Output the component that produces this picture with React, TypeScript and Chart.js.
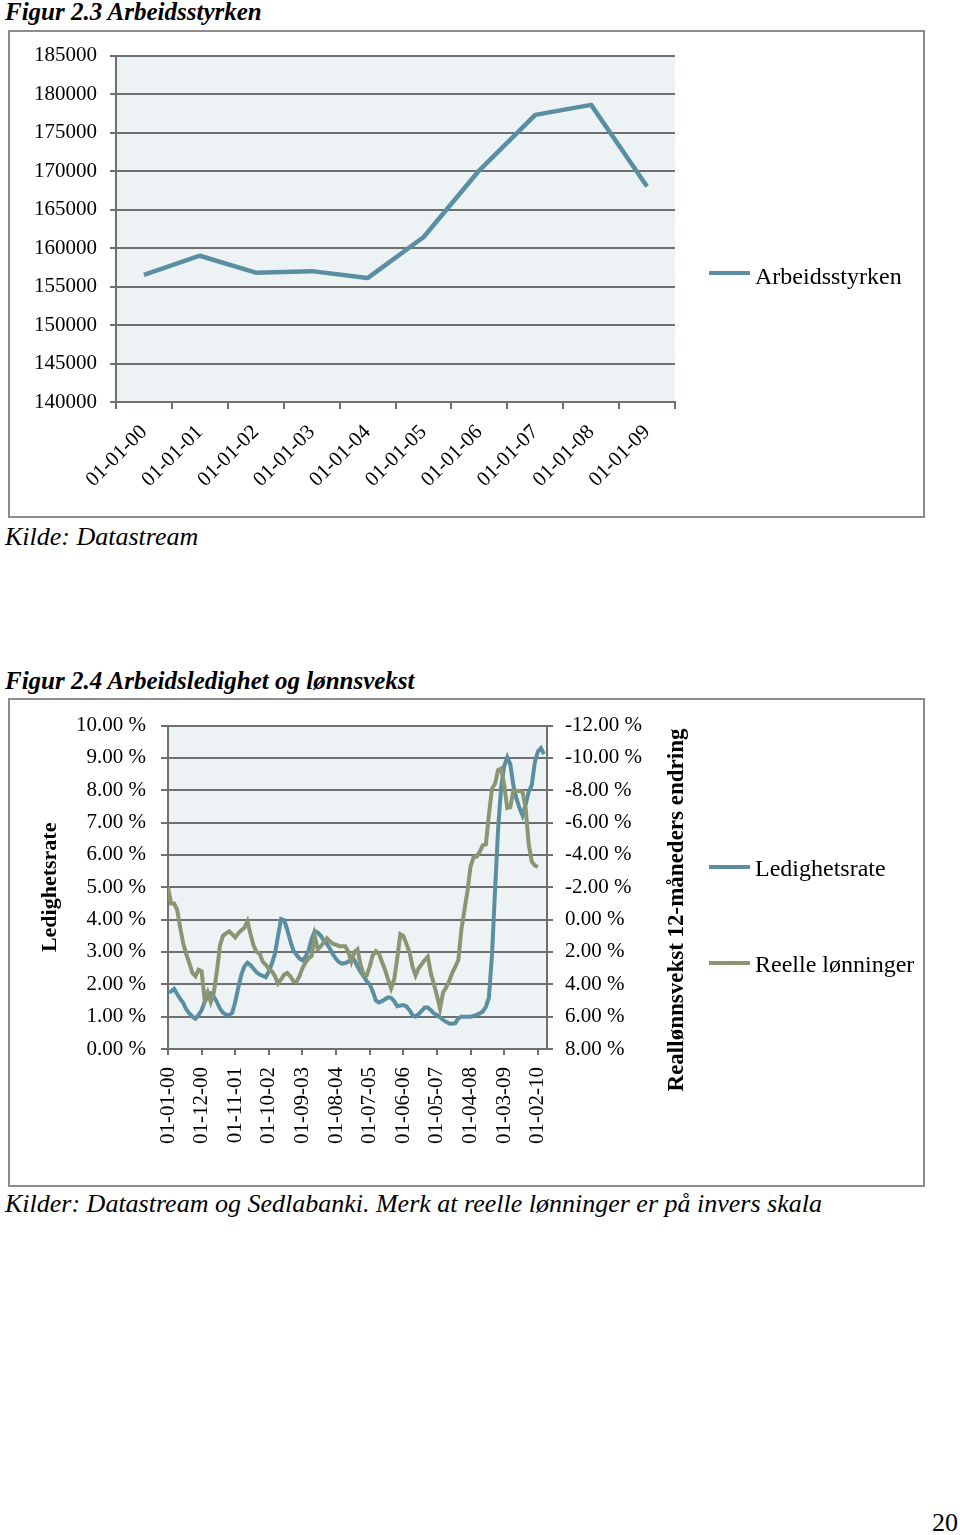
import React, { useEffect, useRef } from 'react';
import { Chart, registerables } from 'chart.js';

Chart.register(...registerables);

// ---------- Figur 2.3 data ----------
const yearLabels = ['01-01-00', '01-01-01', '01-01-02', '01-01-03', '01-01-04', '01-01-05', '01-01-06', '01-01-07', '01-01-08', '01-01-09'];
const labourForce = [156500, 159000, 156800, 157000, 156100, 161400, 170100, 177300, 178600, 168000];

// ---------- Figur 2.4 data (monthly from Jan 2000) ----------
const monthTickLabels = ['01-01-00', '01-12-00', '01-11-01', '01-10-02', '01-09-03', '01-08-04', '01-07-05', '01-06-06', '01-05-07', '01-04-08', '01-03-09', '01-02-10'];
const unemploymentRate = [
  1.76, 1.78, 1.86, 1.70, 1.55, 1.42, 1.22, 1.10, 1.00, 0.94,
  1.05, 1.20, 1.45, 1.66, 1.72, 1.62, 1.45, 1.25, 1.12, 1.06,
  1.05, 1.12, 1.45, 1.90, 2.30, 2.55, 2.67, 2.60, 2.48, 2.37,
  2.30, 2.26, 2.22, 2.40, 2.65, 2.95, 3.50, 4.02, 3.98, 3.70,
  3.35, 3.05, 2.92, 2.80, 2.74, 2.85, 3.05, 3.40, 3.65, 3.60,
  3.50, 3.35, 3.25, 3.10, 2.92, 2.78, 2.68, 2.64, 2.66, 2.70,
  2.80, 2.75, 2.55, 2.38, 2.25, 2.10, 2.00, 1.78, 1.50, 1.44,
  1.48, 1.54, 1.60, 1.58, 1.48, 1.32, 1.34, 1.36, 1.32, 1.20,
  1.05, 1.00, 1.08, 1.18, 1.28, 1.28, 1.20, 1.10, 1.05, 0.98,
  0.90, 0.84, 0.79, 0.78, 0.80, 0.95, 1.00, 1.00, 1.00, 1.00,
  1.02, 1.06, 1.10, 1.16, 1.30, 1.60, 2.90, 4.90, 6.80, 8.10,
  8.75, 9.02, 8.80, 8.15, 7.75, 7.45, 7.22, 7.55, 7.95, 8.15,
  8.85, 9.20, 9.30, 9.12,
];
const realWages = [
  -2.0, -1.0, -1.0, -0.6, 0.5, 1.5, 2.15, 2.7, 3.3, 3.5,
  3.1, 3.2, 5.0, 4.5, 5.1, 4.5, 3.2, 1.6, 1.0, 0.85,
  0.72, 0.9, 1.1, 0.85, 0.65, 0.5, 0.1, 0.9, 1.6, 2.0,
  2.1, 2.6, 2.8, 3.05, 3.2, 3.5, 3.95, 3.7, 3.4, 3.3,
  3.5, 3.8, 3.85, 3.5, 3.0, 2.65, 2.4, 2.24, 1.0, 1.84,
  1.64, 1.4, 1.15, 1.35, 1.5, 1.55, 1.64, 1.64, 1.64, 2.0,
  2.6, 2.0, 1.84, 2.8, 3.4, 3.45, 2.9, 2.2, 1.95, 2.1,
  2.6, 3.1, 3.7, 4.25, 3.7, 2.4, 0.9, 1.0, 1.5, 2.0,
  2.9, 3.45, 3.0, 2.76, 2.5, 2.3, 3.3, 4.0, 4.7, 5.5,
  4.5, 4.2, 3.8, 3.3, 2.9, 2.5, 0.6, -0.6, -1.8, -3.3,
  -3.87, -3.9, -4.2, -4.6, -4.65, -6.5, -8.1, -8.4, -9.25, -9.35,
  -8.3, -6.9, -6.95, -8.0, -7.95, -7.95, -7.9, -6.9, -4.7, -3.6,
  -3.35, -3.25,
];

const FONT = '"Liberation Serif", "Times New Roman", serif';
const BLUE = '#5A8EA1';
const GREEN = '#899573';
const GRID = '#6f6f6f';
const PLOT_BG = '#EDF2F5';
const FRAME = '#8c8c8c';

Chart.defaults.color = '#000';

const plotBg = {
  id: 'plotBg',
  beforeDraw(chart: any) {
    const { ctx, chartArea: a } = chart;
    ctx.save();
    ctx.fillStyle = PLOT_BG;
    ctx.fillRect(a.left, a.top, a.right - a.left, a.bottom - a.top);
    ctx.restore();
  },
};

const sideTitle = {
  id: 'sideTitle',
  afterDraw(chart: any, _args: any, opts: any) {
    if (!opts || !opts.text) return;
    const ctx = chart.ctx;
    ctx.save();
    ctx.translate(opts.x, opts.y);
    ctx.rotate(-Math.PI / 2);
    ctx.font = `bold ${opts.size}px ${FONT}`;
    ctx.fillStyle = '#000';
    ctx.textAlign = 'center';
    ctx.textBaseline = 'middle';
    ctx.fillText(opts.text, 0, 0);
    ctx.restore();
  },
};

function LabourForceChart() {
  const ref = useRef<HTMLCanvasElement>(null);
  useEffect(() => {
    const chart = new Chart(ref.current as HTMLCanvasElement, {
      type: 'line',
      data: {
        labels: yearLabels,
        datasets: [
          {
            label: 'Arbeidsstyrken',
            data: labourForce,
            borderColor: BLUE,
            backgroundColor: BLUE,
            borderWidth: 4.5,
            pointRadius: 0,
            tension: 0,
            borderJoinStyle: 'round',
          },
        ],
      },
      options: {
        animation: false,
        responsive: false,
        devicePixelRatio: 1,
        layout: { padding: { left: 0, top: 24, right: 250, bottom: 16 } },
        plugins: { legend: { display: false }, tooltip: { enabled: false } },
        scales: {
          x: {
            type: 'category',
            offset: true,
            grid: { display: true, drawOnChartArea: false, drawTicks: true, tickLength: 7, color: GRID, lineWidth: 2, offset: true },
            border: { display: true, color: GRID, width: 2 },
            ticks: { autoSkip: false, maxRotation: 45, minRotation: 45, padding: 11, color: '#000', font: { family: FONT, size: 21 } },
            afterFit: (s: any) => { s.height = 100; },
          },
          y: {
            min: 140000,
            max: 185000,
            ticks: { stepSize: 5000, padding: 13, color: '#000', font: { family: FONT, size: 21 }, callback: (v: any) => String(v) },
            grid: { color: GRID, lineWidth: 2, tickLength: 6 },
            border: { color: GRID, width: 2 },
            afterFit: (s: any) => { s.width = 108; },
          },
        },
      } as any,
      plugins: [plotBg],
    });
    return () => chart.destroy();
  }, []);
  return <canvas ref={ref} width={917} height={488} style={{ position: 'absolute', left: 8, top: 30 }} />;
}

function UnemploymentChart() {
  const ref = useRef<HTMLCanvasElement>(null);
  useEffect(() => {
    const chart = new Chart(ref.current as HTMLCanvasElement, {
      type: 'line',
      data: {
        datasets: [
          {
            label: 'Ledighetsrate',
            data: unemploymentRate.map((v, i) => ({ x: i, y: v })),
            yAxisID: 'y',
            borderColor: BLUE,
            backgroundColor: BLUE,
            borderWidth: 4,
            pointRadius: 0,
            tension: 0,
            order: 1,
          },
          {
            label: 'Reelle lønninger',
            data: realWages.map((v, i) => ({ x: i, y: v })),
            yAxisID: 'y1',
            borderColor: GREEN,
            backgroundColor: GREEN,
            borderWidth: 4,
            pointRadius: 0,
            tension: 0,
            order: 0,
          },
        ],
      },
      options: {
        animation: false,
        responsive: false,
        devicePixelRatio: 1,
        layout: { padding: { left: 0, top: 24, right: 278, bottom: 38 } },
        plugins: {
          legend: { display: false },
          tooltip: { enabled: false },
          sideTitle: { text: 'Reallønnsvekst 12-måneders endring', x: 669, y: 212, size: 23 },
        },
        scales: {
          x: {
            type: 'linear',
            min: 0,
            max: 124,
            grid: { display: true, drawOnChartArea: false, drawTicks: true, tickLength: 6, color: GRID, lineWidth: 2 },
            border: { display: true, color: GRID, width: 2 },
            ticks: {
              stepSize: 11,
              includeBounds: false,
              autoSkip: false,
              maxRotation: 90,
              minRotation: 90,
              padding: 12,
              color: '#000',
              font: { family: FONT, size: 21 },
              callback: (v: any) => monthTickLabels[Math.round(Number(v) / 11)] ?? '',
            },
            afterFit: (s: any) => { s.height = 100; },
          },
          y: {
            position: 'left',
            min: 0,
            max: 10,
            ticks: { stepSize: 1, padding: 15, color: '#000', font: { family: FONT, size: 21 }, callback: (v: any) => Number(v).toFixed(2) + ' %' },
            grid: { color: GRID, lineWidth: 2, tickLength: 7 },
            border: { color: GRID, width: 2 },
            title: { display: true, text: 'Ledighetsrate', color: '#000', font: { family: FONT, size: 22, weight: 'bold' }, padding: { top: 29, bottom: 0 } },
            afterFit: (s: any) => { s.width = 160; },
          },
          y1: {
            position: 'right',
            min: -12,
            max: 8,
            reverse: true,
            ticks: { stepSize: 2, padding: 12, color: '#000', font: { family: FONT, size: 21 }, callback: (v: any) => Number(v).toFixed(2) + ' %' },
            grid: { drawOnChartArea: false, color: GRID, lineWidth: 2, tickLength: 6 },
            border: { color: GRID, width: 2 },
            afterFit: (s: any) => { s.width = 100; },
          },
        },
      } as any,
      plugins: [plotBg, sideTitle],
    });
    return () => chart.destroy();
  }, []);
  return <canvas ref={ref} width={917} height={489} style={{ position: 'absolute', left: 8, top: 698 }} />;
}

const txt = (left: number, top: number, size: number, extra: React.CSSProperties = {}): React.CSSProperties => ({
  position: 'absolute',
  left,
  top,
  fontSize: size,
  lineHeight: `${size}px`,
  whiteSpace: 'nowrap',
  fontFamily: FONT,
  color: '#000',
  ...extra,
});

export default function App() {
  return (
    <div style={{ position: 'absolute', left: 0, top: 0, width: 960, height: 1535, background: '#fff', overflow: 'hidden' }}>
      {/* Figure 2.3 */}
      <div style={txt(5, -1, 25, { fontWeight: 'bold', fontStyle: 'italic' })}>Figur 2.3 Arbeidsstyrken</div>
      <div style={{ position: 'absolute', left: 8, top: 30, width: 917, height: 488, border: `2px solid ${FRAME}`, boxSizing: 'border-box' }} />
      <LabourForceChart />
      <div style={{ position: 'absolute', left: 709, top: 271, width: 41, height: 4, background: BLUE }} />
      <div style={txt(755, 264, 24)}>Arbeidsstyrken</div>
      <div style={txt(5, 524, 26, { fontStyle: 'italic' })}>Kilde: Datastream</div>

      {/* Figure 2.4 */}
      <div style={txt(5, 668, 25, { fontWeight: 'bold', fontStyle: 'italic' })}>Figur 2.4 Arbeidsledighet og lønnsvekst</div>
      <div style={{ position: 'absolute', left: 8, top: 698, width: 917, height: 489, border: `2px solid ${FRAME}`, boxSizing: 'border-box' }} />
      <UnemploymentChart />
      <div style={{ position: 'absolute', left: 709, top: 865, width: 41, height: 4, background: BLUE }} />
      <div style={txt(755, 856, 24)}>Ledighetsrate</div>
      <div style={{ position: 'absolute', left: 709, top: 961, width: 41, height: 4, background: GREEN }} />
      <div style={txt(755, 952, 24)}>Reelle lønninger</div>
      <div style={txt(5, 1191, 26, { fontStyle: 'italic' })}>Kilder: Datastream og Sedlabanki. Merk at reelle lønninger er på invers skala</div>

      <div style={txt(0, 1510, 26, { left: 'auto', right: 2 })}>20</div>
    </div>
  );
}
